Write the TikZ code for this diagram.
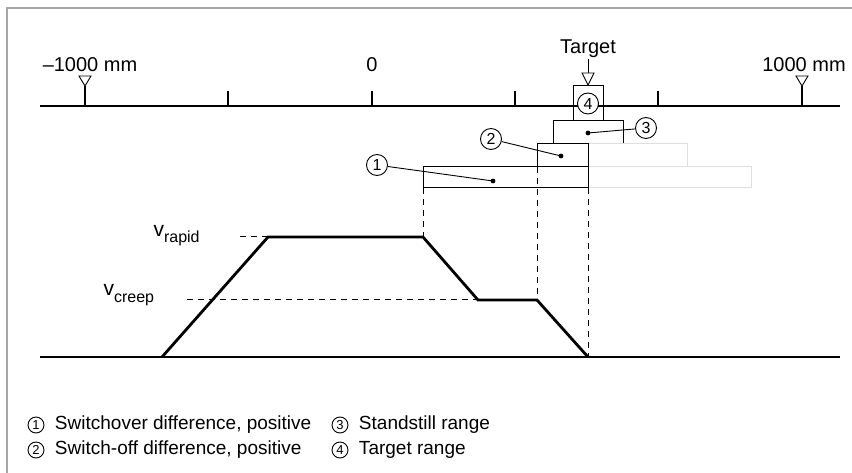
\documentclass[tikz,border=0pt]{standalone}
\usepackage{fontspec}
\setmainfont{Liberation Sans}
\usetikzlibrary{positioning}
\tikzset{
  frame line/.style={draw=gray!70, line width=1.5pt},
  axis line/.style={line width=2.6pt},
  tick line/.style={line width=2pt},
  marker/.style={draw, fill=white, line width=0.9pt, line join=miter},
  range box/.style={
    draw,
    line width=1pt,
    inner sep=0pt, outer sep=0pt,
    minimum width={#1pt},
    minimum height={23pt},
  },
  ghost box/.style={range box=#1, draw=gray!25},
  num/.style={draw, circle, fill=white, line width=0.9pt, inner sep=0pt,
    minimum size=21pt, font=\fontsize{16}{16}\selectfont},
  small num/.style={num, minimum size=16pt, font=\fontsize{13}{13}\selectfont},
  leader/.style={line width=0.9pt},
  guide/.style={line width=1pt, dash pattern=on 6pt off 5pt},
  profile/.style={line width=2.8pt, line join=miter},
  scale text/.style={font=\fontsize{20}{24}\selectfont, anchor=base},
  legend text/.style={font=\fontsize{19}{22}\selectfont, anchor=west},
}

\begin{document}
\begin{tikzpicture}[x=1pt, y=-1pt]
  \useasboundingbox (0,0) rectangle (852,473);
  % frame, only top and left edge
  \draw[frame line] (852,8) -- (7,8) -- (7,473);

  % position scale
  \draw[axis line] (40,106) -- (840,106);
  \foreach \x in {228,372,515,658}
    \draw[tick line] (\x,91) -- (\x,106);
  \foreach \x in {85,802} {
    \draw[tick line] (\x,86) -- (\x,106);
    \draw[marker] (\x-6,76) -- (\x+6,76) -- (\x,86) -- cycle;
  }
  \node[scale text] (minus) at (90,72) {–1000 mm};
  \node[scale text] (zero) at (372,72) {0};
  \node[scale text] (plus) at (804,72) {1000 mm};
  \node[scale text] (target) at (588,54) {Target};
  \draw[line width=0.9pt] (588,59) -- (588,73);
  \draw[marker] (582,73) -- (594,73) -- (588,85) -- cycle;

  % ranges
  \node[range box=30, minimum height=35pt] (b4) at (588,103.5) {};
  \node[range box=70, below=0pt of b4] (b3) {};
  \node[ghost box=99, below right=0pt and 0pt of b3.south] (g2) {};
  \node[range box=51, below left=0pt and 0pt of b3.south] (b2) {};
  \node[ghost box=163, minimum height=21pt, below right=0pt and 0pt of b2.south east] (g1) {};
  \node[range box=165, minimum height=21pt, below left=0pt and 0pt of b2.south east] (b1) {};
  \node[num] (c4) at (b4) {4};

  \coordinate (d1) at (493,181);
  \coordinate (d2) at (561,156);
  \coordinate (d3) at (588,133);
  \foreach \d in {d1,d2,d3}
    \fill (\d) circle (2.4);
  \node[num] (c1) at (377,165) {1};
  \node[num] (c2) at (491,139) {2};
  \node[num] (c3) at (646,128) {3};
  \draw[leader] (c1) -- (d1);
  \draw[leader] (c2) -- (d2);
  \draw[leader] (c3) -- (d3);

  % velocity profile
  \coordinate (p0) at (40,357);
  \coordinate (p1) at (162,357);
  \coordinate (p2) at (268,237);
  \coordinate (p3) at (423,237);
  \coordinate (p4) at (478,300);
  \coordinate (p5) at (537,300);
  \coordinate (p6) at (588,357);
  \coordinate (p7) at (840,357);
  \coordinate (rapid) at (240,237);
  \coordinate (creep) at (187,300);
  \draw[guide] (rapid) -- (p2);
  \draw[guide] (creep) -- (p4);
  \draw[guide] (b1.south west) -- (p3);
  \draw[guide] (b2.south west) -- (p5);
  \draw[guide] (b1.south east) -- (p6);
  \draw[profile] (p0) -- (p7);
  \draw[profile] (p1) -- (p2) -- (p3) -- (p4) -- (p5) -- (p6);
  \node[anchor=base west, font=\fontsize{21}{24}\selectfont] (vr) at (150,237)
    {v\raisebox{-6pt}{\fontsize{16}{16}\selectfont rapid}};
  \node[anchor=base west, font=\fontsize{21}{24}\selectfont] (vc) at (100,296)
    {v\raisebox{-6pt}{\fontsize{16}{16}\selectfont creep}};

  % legend
  \node[small num] (l1) at (36,425) {1};
  \node[legend text, right=7pt of l1] (t1) {Switchover difference, positive};
  \node[small num] (l2) at (36,450) {2};
  \node[legend text, right=7pt of l2] (t2) {Switch-off difference, positive};
  \node[small num] (l3) at (340,425) {3};
  \node[legend text, right=7pt of l3] (t3) {Standstill range};
  \node[small num] (l4) at (340,450) {4};
  \node[legend text, right=7pt of l4] (t4) {Target range};
\end{tikzpicture}
\end{document}
